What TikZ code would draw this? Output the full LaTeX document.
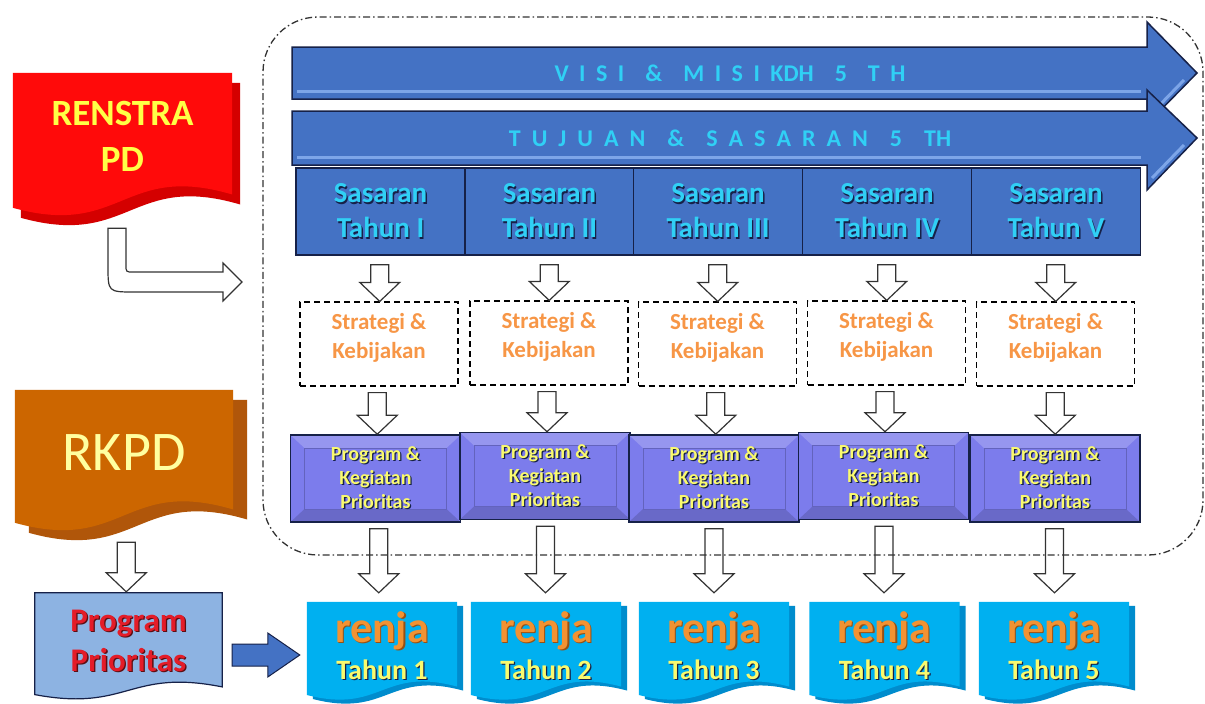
\documentclass[tikz,border=0pt]{standalone}
\usepackage{fontspec}
\setmainfont{Carlito}
\usetikzlibrary{calc}
\usetikzlibrary{backgrounds}

\definecolor{bannerblue}{RGB}{68,114,196}
\definecolor{bannerlight}{RGB}{125,165,232}
\definecolor{navyline}{RGB}{22,33,72}
\definecolor{cyantext}{RGB}{48,208,245}
\definecolor{orangetext}{RGB}{247,150,70}
\definecolor{progfill}{RGB}{124,124,236}
\definecolor{progtext}{RGB}{250,250,110}
\definecolor{renjafill}{RGB}{0,176,240}
\definecolor{renjashade}{RGB}{0,140,205}
\definecolor{renjatext}{RGB}{242,146,50}
\definecolor{renjadeep}{RGB}{150,80,20}
\definecolor{renstrafill}{RGB}{255,10,10}
\definecolor{renstrashade}{RGB}{212,0,0}
\definecolor{renstratext}{RGB}{255,255,70}
\definecolor{rkpdfill}{RGB}{204,102,0}
\definecolor{rkpdshade}{RGB}{176,86,10}
\definecolor{rkpdtext}{RGB}{255,255,160}
\definecolor{priofill}{RGB}{141,179,226}
\definecolor{priotext}{RGB}{228,28,40}
\definecolor{priodeep}{RGB}{90,15,20}

% text with a small drop shadow
\newcommand\sh[2]{\makebox[0pt][l]{\hspace{1.3pt}\raisebox{-1.3pt}{\textcolor{#1}{#2}}}#2}

% document shape with wavy bottom, drawn behind a node
\newcommand\wavedoc[5]{%
  \path[#2] let \p1=([shift={(#3,#4)}]#1.north west), \p2=([shift={(#3,#4)}]#1.south east),
    \n1={(\x2-\x1)*0.5} in
    (\p1) -- (\x2,\y1) -- (\x2,\y2+0.15*#5)
    .. controls (\x1+\n1,\y2+#5) and (\x1+\n1,\y2-#5) .. (\x1,\y2-0.2*#5) -- cycle;}

% hollow arrow pointing down
\newcommand\hdown[4]{%
  \draw[hollow] let \p1=($(#1.south)!0.5!(#2.north)$), \p2=([yshift=-#3pt]#1.south),
    \p3=([yshift=#4pt]#2.north) in
    (\x1-9,\y2) -- (\x1+9,\y2) -- (\x1+9,\y3+19) -- (\x1+20,\y3+19) -- (\x1,\y3)
    -- (\x1-20,\y3+19) -- (\x1-9,\y3+19) -- cycle;}

% solid block arrow pointing right
\newcommand\blockright[2]{%
  \draw[blockarrow] let \p1=([xshift=10pt]#1.east), \p2=([xshift=-7pt,yshift=-9pt]#2.west) in
    (\x1,\y2+11) -- (\x2-32,\y2+11) -- (\x2-32,\y2+22) -- (\p2) -- (\x2-32,\y2-22)
    -- (\x2-32,\y2-11) -- (\x1,\y2-11) -- cycle;}

\newcommand\renjatext[1]{{\fontsize{44}{44}\selectfont\sh{renjadeep}{renja}}\\[3pt]{\color{progtext}\sh{navyline}{Tahun #1}}}
\newcommand\progtext{\sh{navyline}{Program \&}\\\sh{navyline}{Kegiatan}\\\sh{navyline}{Prioritas}}

\tikzset{
  border/.style={draw=black!80, line width=1.3pt, dash pattern=on 7pt off 3pt on 1.5pt off 3pt, rounded corners=55pt},
  banner/.style={draw=navyline, line width=1.5pt, fill=bannerblue},
  bannerhi/.style={draw=bannerlight, line width=3pt},
  bannertext/.style={text=cyantext, font=\fontsize{24}{24}\selectfont\bfseries, inner sep=0pt},
  sasaran/.style={draw=navyline, line width=1.5pt, fill=bannerblue, minimum width=169pt, minimum height=87pt,
    inner sep=0pt, align=center, text=cyantext, font=\fontsize{29}{35}\selectfont\bfseries},
  strat/.style={draw=black, line width=1.2pt, dash pattern=on 6pt off 4pt, minimum width=158pt, minimum height=84pt,
    inner sep=0pt, align=center, text=orangetext, font=\fontsize{23}{29}\selectfont\bfseries},
  prog/.style={draw=navyline, line width=1.5pt, fill=progfill, minimum width=170pt, minimum height=87pt,
    inner sep=0pt, align=center, text=progtext, font=\fontsize{20}{24}\selectfont\bfseries,
    path picture={
      \fill[white, opacity=0.2] (path picture bounding box.north west) -- (path picture bounding box.north east)
        -- ([shift={(-14pt,-13pt)}]path picture bounding box.north east) -- ([shift={(14pt,-13pt)}]path picture bounding box.north west) -- cycle;
      \fill[black, opacity=0.15] (path picture bounding box.south west) -- (path picture bounding box.south east)
        -- ([shift={(-14pt,13pt)}]path picture bounding box.south east) -- ([shift={(14pt,13pt)}]path picture bounding box.south west) -- cycle;
      \draw[progfill!80!black, line width=0.8pt] ([shift={(14pt,-13pt)}]path picture bounding box.north west)
        rectangle ([shift={(-14pt,13pt)}]path picture bounding box.south east);}},
  renja/.style={minimum width=150pt, minimum height=88pt, inner sep=0pt, align=center, text=renjatext,
    font=\fontsize{28}{34}\selectfont\bfseries},
  doc/.style={inner sep=0pt, align=center},
  hollow/.style={draw=black!80, line width=1.2pt, line join=miter},
  blockarrow/.style={draw=navyline, line width=1pt, fill=bannerblue},
}

\begin{document}
\begin{tikzpicture}[x=1pt,y=-1pt]
    \useasboundingbox (0,0) rectangle (1205,704);

    % banners
    \draw[banner] (292,47) -- (1147,47) -- (1147,22) -- (1197,73) -- (1147,124) -- (1147,99) -- (292,99) -- cycle;
    \draw[bannerhi] (297,91) -- (1141,91);
    \draw[bannerhi] (1152,113) -- (1184,80);
    \node[bannertext] (visi) at (730,73) {\spaceskip=10.5pt V I S I \ \& \ M I S I KDH \ 5 \ T H};
    \draw[banner] (292,111) -- (1147,111) -- (1147,90) -- (1197,138) -- (1147,190) -- (1147,165) -- (292,165) -- cycle;
    \draw[bannerhi] (297,157) -- (1141,157);
    \draw[bannerhi] (1152,178) -- (1184,145);
    \node[bannertext] (tujuan) at (730,138) {\spaceskip=11pt T U J U A N \ \& \ S A S A R A N \ 5 \ TH};

    % sasaran line
    \node[sasaran] (s1) at (380.5,211.5) {\sh{navyline}{Sasaran}\\\sh{navyline}{Tahun I}};
    \node[sasaran] (s2) at (549.5,211.5) {\sh{navyline}{Sasaran}\\\sh{navyline}{Tahun II}};
    \node[sasaran] (s3) at (718,211.5) {\sh{navyline}{Sasaran}\\\sh{navyline}{Tahun III}};
    \node[sasaran] (s4) at (887,211.5) {\sh{navyline}{Sasaran}\\\sh{navyline}{Tahun IV}};
    \node[sasaran] (s5) at (1056,211.5) {\sh{navyline}{Sasaran}\\\sh{navyline}{Tahun V}};

    % strategi line
    \node[strat] (k1) at (379,344) {Strategi \&\\Kebijakan\\[-12pt]};
    \node[strat] (k2) at (549,343) {Strategi \&\\Kebijakan\\[-12pt]};
    \node[strat] (k3) at (717.5,344) {Strategi \&\\Kebijakan\\[-12pt]};
    \node[strat] (k4) at (886.5,343) {Strategi \&\\Kebijakan\\[-12pt]};
    \node[strat] (k5) at (1055.5,344) {Strategi \&\\Kebijakan\\[-12pt]};

    % program line
    \node[prog] (p1) at (375.5,478.5) {\progtext};
    \node[prog] (p2) at (545,476) {\progtext};
    \node[prog] (p3) at (714,478.5) {\progtext};
    \node[prog] (p4) at (883.5,476) {\progtext};
    \node[prog] (p5) at (1055,478.5) {\progtext};

    % renja line
    \node[renja] (r1) at (382,646) {\renjatext{1}};
    \node[renja] (r2) at (546,646) {\renjatext{2}};
    \node[renja] (r3) at (714,646) {\renjatext{3}};
    \node[renja] (r4) at (884.5,646) {\renjatext{4}};
    \node[renja] (r5) at (1054,646) {\renjatext{5}};

    % left column
    \node[doc, minimum width=219pt, minimum height=127pt, text=renstratext,
      font=\fontsize{37}{46}\selectfont\bfseries] (renstra) at (122.5,136.5) {RENSTRA\\PD};
    \node[doc, minimum width=218pt, minimum height=125pt, text=rkpdtext,
      font=\fontsize{56}{56}\selectfont] (rkpd) at (124,452.5) {RKPD};
    \node[doc, minimum width=187pt, minimum height=97pt, text=priotext,
      font=\fontsize{33}{40}\selectfont\bfseries] (progp) at (128.5,641.5) {\sh{priodeep}{Program}\\\sh{priodeep}{Prioritas}};

    \begin{scope}[on background layer]
        \fill[white] (0,0) rectangle (1205,704);
        \wavedoc{renstra}{fill=renstrashade}{8}{10}{38pt}
        \wavedoc{renstra}{fill=renstrafill}{0}{0}{38pt}
        \wavedoc{rkpd}{fill=rkpdshade}{14}{10}{38pt}
        \wavedoc{rkpd}{fill=rkpdfill}{0}{0}{38pt}
        \wavedoc{progp}{fill=priofill, draw=navyline, line width=1.2pt}{0}{0}{22pt}
        \wavedoc{r1}{fill=renjashade}{6}{4}{24pt}
        \wavedoc{r1}{fill=renjafill}{0}{0}{24pt}
        \wavedoc{r2}{fill=renjashade}{6}{4}{24pt}
        \wavedoc{r2}{fill=renjafill}{0}{0}{24pt}
        \wavedoc{r3}{fill=renjashade}{6}{4}{24pt}
        \wavedoc{r3}{fill=renjafill}{0}{0}{24pt}
        \wavedoc{r4}{fill=renjashade}{6}{4}{24pt}
        \wavedoc{r4}{fill=renjafill}{0}{0}{24pt}
        \wavedoc{r5}{fill=renjashade}{6}{4}{24pt}
        \wavedoc{r5}{fill=renjafill}{0}{0}{24pt}
    \end{scope}

    % dash dot frame
    \draw[border] (263,300) -- (263,17) -- (1203,17) -- (1203,555) -- (263,555) -- cycle;

    % arrows down
    \hdown{s1}{k1}{9}{0} \hdown{s2}{k2}{9}{0} \hdown{s3}{k3}{9}{0} \hdown{s4}{k4}{9}{0} \hdown{s5}{k5}{9}{0}
    \hdown{k1}{p1}{6}{0} \hdown{k2}{p2}{6}{0} \hdown{k3}{p3}{6}{0} \hdown{k4}{p4}{6}{0} \hdown{k5}{p5}{6}{0}
    \hdown{p1}{r1}{6}{9} \hdown{p2}{r2}{6}{9} \hdown{p3}{r3}{6}{9} \hdown{p4}{r4}{6}{9} \hdown{p5}{r5}{6}{9}
    \hdown{rkpd}{progp}{27}{1}

    % bent arrow into the frame
    \coordinate (into) at (242,282);
    \draw[hollow] let \p1=(renstra.south), \p2=(into) in
        (\x1-14.5,\y1-28) -- (\x1+3.5,\y1-28) -- (\x1+3.5,\y2+17)
        .. controls (\x1+3.5,\y2+10) .. (\x1+10.5,\y2+10) -- (\x2-19,\y2+10) -- (\x2-19,\y2+19)
        -- (\p2) -- (\x2-19,\y2-19) -- (\x2-19,\y2-10) -- (\x1+12,\y2-10)
        .. controls (\x1-14.5,\y2-10) .. (\x1-14.5,\y2+16) -- cycle;

    \blockright{progp}{r1}
\end{tikzpicture}
\end{document}
